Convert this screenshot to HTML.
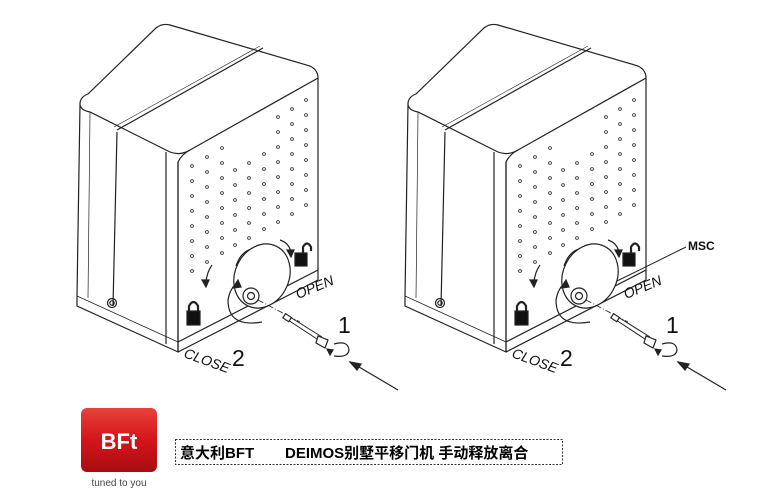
<!DOCTYPE html>
<html><head><meta charset="utf-8"><style>
html,body{margin:0;padding:0;background:#fff;}
body{width:760px;height:501px;overflow:hidden;position:relative;font-family:"Liberation Sans","Noto Sans CJK SC",sans-serif;}
</style></head><body>
<svg width="760" height="501" viewBox="0 0 760 501" xmlns="http://www.w3.org/2000/svg" style="position:absolute;left:0;top:0">
<defs>
<g id="box" fill="none" stroke="#222" stroke-width="1.2">
  <!-- top surface -->
  <path d="M80,104 Q80,97 88,94 L156,28 Q162,23 170,25 L310,66 Q318,70 318,78 L190,150 Q180,156 170,152 L90,112 Q80,110 80,104 Z" fill="#fff"/>
  <path d="M117,130 L263,48" />
  <path d="M114,127 L260,46" stroke-width="0.6"/>
  <!-- left face -->
  <path d="M80,104 L77,296 L77,306 L178,352 L178,162" />
  <path d="M90,112 L88,298" stroke-width="0.7"/>
  <path d="M117,132 L113,306" />
  <path d="M77,296 L178,342" stroke-width="0.8"/>
  <!-- front face -->
  <path d="M166,152 L166,344 M178,162 L178,352" />
  <path d="M178,162 Q182,154 190,150" />
  <path d="M318,78 L318,270 L178,342 M318,280 L178,352" />
  <path d="M318,270 L318,280" />
  <circle cx="112" cy="303" r="4.5"/><circle cx="112" cy="303" r="2.2"/>
  <!-- holes -->
  <g stroke-width="0.8">
  <circle cx="192" cy="166" r="1.4"/><circle cx="192" cy="181" r="1.4"/><circle cx="192" cy="196" r="1.4"/><circle cx="192" cy="211" r="1.4"/><circle cx="192" cy="226" r="1.4"/><circle cx="192" cy="241" r="1.4"/><circle cx="192" cy="256" r="1.4"/><circle cx="192" cy="271" r="1.4"/>
  <circle cx="207" cy="157" r="1.4"/><circle cx="207" cy="172" r="1.4"/><circle cx="207" cy="187" r="1.4"/><circle cx="207" cy="202" r="1.4"/><circle cx="207" cy="217" r="1.4"/><circle cx="207" cy="232" r="1.4"/><circle cx="207" cy="247" r="1.4"/><circle cx="207" cy="262" r="1.4"/>
  <circle cx="222" cy="148" r="1.4"/><circle cx="222" cy="163" r="1.4"/><circle cx="222" cy="178" r="1.4"/><circle cx="222" cy="193" r="1.4"/><circle cx="222" cy="208" r="1.4"/><circle cx="222" cy="223" r="1.4"/><circle cx="222" cy="238" r="1.4"/><circle cx="222" cy="253" r="1.4"/>
  <circle cx="235" cy="170" r="1.4"/><circle cx="235" cy="185" r="1.4"/><circle cx="235" cy="200" r="1.4"/><circle cx="235" cy="215" r="1.4"/><circle cx="235" cy="230" r="1.4"/><circle cx="235" cy="245" r="1.4"/>
  <circle cx="249" cy="163" r="1.4"/><circle cx="249" cy="178" r="1.4"/><circle cx="249" cy="193" r="1.4"/><circle cx="249" cy="208" r="1.4"/><circle cx="249" cy="223" r="1.4"/><circle cx="249" cy="238" r="1.4"/>
  <circle cx="264" cy="154" r="1.4"/><circle cx="264" cy="169" r="1.4"/><circle cx="264" cy="184" r="1.4"/><circle cx="264" cy="199" r="1.4"/><circle cx="264" cy="214" r="1.4"/><circle cx="264" cy="229" r="1.4"/>
  <circle cx="278" cy="117" r="1.4"/><circle cx="278" cy="132" r="1.4"/><circle cx="278" cy="147" r="1.4"/><circle cx="278" cy="162" r="1.4"/><circle cx="278" cy="177" r="1.4"/><circle cx="278" cy="192" r="1.4"/><circle cx="278" cy="207" r="1.4"/><circle cx="278" cy="222" r="1.4"/>
  <circle cx="292" cy="109" r="1.4"/><circle cx="292" cy="124" r="1.4"/><circle cx="292" cy="139" r="1.4"/><circle cx="292" cy="154" r="1.4"/><circle cx="292" cy="169" r="1.4"/><circle cx="292" cy="184" r="1.4"/><circle cx="292" cy="199" r="1.4"/><circle cx="292" cy="214" r="1.4"/>
  <circle cx="306" cy="100" r="1.4"/><circle cx="306" cy="115" r="1.4"/><circle cx="306" cy="130" r="1.4"/><circle cx="306" cy="145" r="1.4"/><circle cx="306" cy="160" r="1.4"/><circle cx="306" cy="175" r="1.4"/><circle cx="306" cy="190" r="1.4"/><circle cx="306" cy="205" r="1.4"/>
  </g>
  <!-- release disc -->
  <path d="M236,266 Q242,248 258,248" />
  <ellipse cx="262" cy="276" rx="27" ry="33" transform="rotate(25 262 276)" fill="#fff"/>
  <circle cx="251" cy="296" r="8" fill="#fff"/><circle cx="251" cy="296" r="3.5"/>
  <path d="M262,322 Q228,328 228,300 Q230,288 238,282" />
  <path d="M238,280 l-5,8 l8,-1 z" fill="#222"/>
  <!-- dash-dot axis -->
  <path d="M258,300 L300,322" stroke-dasharray="6,2,1,2" stroke-width="0.8"/>
  <!-- rotation arrows -->
  <path d="M280,240 Q289,243 291,252" /><path d="M291,257 l-4,-7 l7,0 z" fill="#222"/>
  <path d="M212,265 Q207,272 206,282" /><path d="M206,287 l-4,-7 l7,0 z" fill="#222"/>
  <!-- locks -->
  <rect x="187" y="311" width="13" height="14" fill="#111"/>
  <path d="M189,311 v-5 q4.5,-8 9,0 v5" stroke-width="2.2"/>
  <rect x="295" y="253" width="12" height="13" fill="#111"/>
  <path d="M303,253 v-6 q4,-7 8,0 v4" stroke-width="2.2"/>
  <!-- key -->
  <path d="M288,320 L320,341 M290,317 L322,337" stroke-width="1"/>
  <rect x="284" y="315" width="7" height="5" transform="rotate(33 287 317)" fill="#fff"/>
  <path d="M318,336 l10,4 l-3,8 l-9,-5 z" fill="#fff"/>
  <path d="M334,344 Q348,340 349,350 Q348,358 334,356" />
  <path d="M327,349 l3,6 l3,-5 z" fill="#222"/>
  <!-- big arrow -->
  <path d="M398,390 L354,364" />
  <path d="M350,362 l11,2 l-4,6 z" fill="#222"/>
</g>
</defs>
<use href="#box"/>
<use href="#box" transform="translate(328,0)"/>
<g font-family="Liberation Sans, sans-serif" fill="#111">
  <text x="0" y="0" font-size="14" font-style="italic" transform="translate(183,357) rotate(20)">CLOSE</text>
  <text x="0" y="0" font-size="14" font-style="italic" transform="translate(298,299) rotate(-22)">OPEN</text>
  <text x="232" y="366" font-size="23">2</text>
  <text x="338" y="333" font-size="23">1</text>
  <text x="0" y="0" font-size="14" font-style="italic" transform="translate(511,357) rotate(20)">CLOSE</text>
  <text x="0" y="0" font-size="14" font-style="italic" transform="translate(626,299) rotate(-22)">OPEN</text>
  <text x="560" y="366" font-size="23">2</text>
  <text x="666" y="333" font-size="23">1</text>
  <text x="688" y="250" font-size="12" font-weight="bold">MSC</text>
  <path d="M686,247 L617,281" stroke="#222" fill="none" stroke-width="1"/>
</g>
<!-- logo -->
<defs><linearGradient id="rg" x1="0" y1="0" x2="0" y2="1"><stop offset="0" stop-color="#e8413a"/><stop offset="0.5" stop-color="#d4151b"/><stop offset="1" stop-color="#a80d12"/></linearGradient></defs>
<rect x="81" y="408" width="76" height="64" rx="6" fill="url(#rg)"/>
<text x="119" y="449" font-size="22" font-weight="bold" fill="#fff" text-anchor="middle" font-family="Liberation Sans, sans-serif">BFt</text>
<text x="119" y="486" font-size="10" fill="#444" text-anchor="middle" font-family="Liberation Sans, sans-serif">tuned to you</text>
<rect x="175.5" y="439.5" width="387" height="25" fill="none" stroke="#333" stroke-dasharray="2,1.5"/>
<text x="180" y="458" font-size="15" font-weight="bold" fill="#000" font-family="Liberation Sans, Noto Sans CJK SC, sans-serif">意大利BFT</text>
<text x="285" y="458" font-size="15" font-weight="bold" fill="#000" font-family="Liberation Sans, Noto Sans CJK SC, sans-serif">DEIMOS别墅平移门机  手动释放离合</text>
</svg>
</body></html>
